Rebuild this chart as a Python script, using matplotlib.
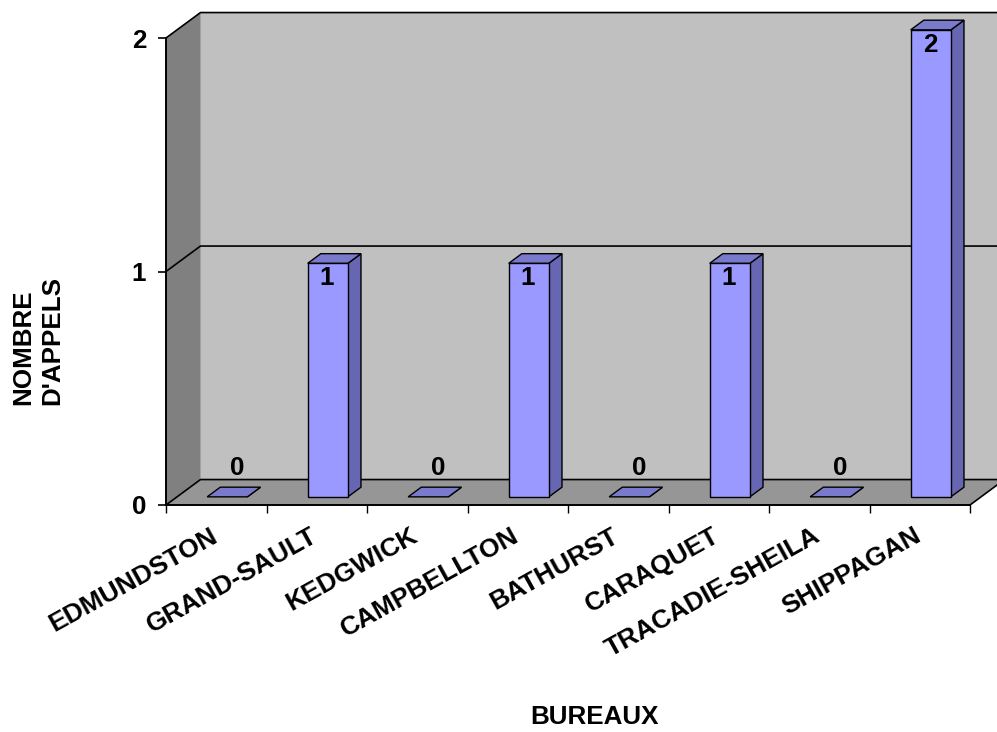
import matplotlib
matplotlib.use("Agg")
import matplotlib.pyplot as plt
from matplotlib.patches import Polygon

# Data
bureaux = ["EDMUNDSTON", "GRAND-SAULT", "KEDGWICK", "CAMPBELLTON",
           "BATHURST", "CARAQUET", "TRACADIE-SHEILA", "SHIPPAGAN"]
appels = [0, 1, 0, 1, 0, 1, 0, 2]
y_ticks = [0, 1, 2]

plt.rcParams["font.family"] = ["Liberation Sans", "DejaVu Sans"]
plt.rcParams["font.weight"] = "bold"
FS = 18.7
FS_CAT = 19.0

# Colours
WALL_BACK = "#c0c0c0"
WALL_SIDE = "#808080"
FLOOR = "#969696"
BAR_FRONT = "#9999ff"
BAR_TOP = "#7a7acc"
BAR_SIDE = "#6666b3"

# Oblique depth offset, in (category, value) units of the front plane
DX, DY = 0.343, 0.109
BAR_W = 0.40
D0, D1 = 0.32, 0.70

fig = plt.figure(figsize=(9.97, 7.32), dpi=100)
ax = fig.add_axes([166 / 997, 227 / 732, 804 / 997, 467 / 732])
n = len(bureaux)
vmax = max(y_ticks)
ax.set_xlim(0, n)
ax.set_ylim(0, vmax)
ax.patch.set_visible(False)

def poly(pts, fc, z=1, lw=0):
    ax.add_patch(Polygon(pts, closed=True, facecolor=fc, edgecolor="black",
                         linewidth=lw, clip_on=False, zorder=z))

# Walls and floor
xr = n + DX + 0.5
poly([(DX, DY), (xr, DY), (xr, vmax + DY), (DX, vmax + DY)], WALL_BACK)
poly([(0, 0), (DX, DY), (DX, vmax + DY), (0, vmax)], WALL_SIDE)
poly([(0, 0), (n, 0), (n + DX, DY), (DX, DY)], FLOOR)

# Gridlines on the walls
for v in y_ticks:
    ax.plot([0, DX, xr], [v, v + DY, v + DY], color="black", lw=1.2,
            clip_on=False, zorder=1.5)
ax.plot([n, n + DX], [0, DY], color="black", lw=1.2, clip_on=False, zorder=1.5)

# Bars
for i, v in enumerate(appels):
    x0 = i + 0.5 - BAR_W / 2
    x1 = i + 0.5 + BAR_W / 2
    fx0, fx1 = x0 + D0 * DX, x1 + D0 * DX
    bx0, bx1 = x0 + D1 * DX, x1 + D1 * DX
    fy, by = D0 * DY, D1 * DY
    poly([(fx1, fy), (bx1, by), (bx1, v + by), (fx1, v + fy)], BAR_SIDE, 3, 1.0)
    poly([(fx0, v + fy), (fx1, v + fy), (bx1, v + by), (bx0, v + by)], BAR_TOP, 3, 1.0)
    if v > 0:
        poly([(fx0, fy), (fx1, fy), (fx1, v + fy), (fx0, v + fy)], BAR_FRONT, 3, 1.0)
        off = (-0.5, -10.8)
    else:
        off = (7.0, 21.0)
    ax.annotate(str(v), xy=((fx0 + fx1) / 2, v + fy), xytext=off,
                textcoords="offset points", ha="center", va="center",
                fontsize=FS, fontweight="bold", zorder=4, annotation_clip=False)

# Axes, ticks and labels
for s in ("top", "right"):
    ax.spines[s].set_visible(False)
for s in ("left", "bottom"):
    ax.spines[s].set_linewidth(1.4)
    ax.spines[s].set_zorder(2)

ax.set_yticks(y_ticks)
ax.set_yticklabels([str(t) for t in y_ticks], fontsize=FS, fontweight="bold")
ax.tick_params(axis="y", direction="out", length=5.8, width=1.2, pad=8.5)

ax.set_xticks(range(n + 1))
ax.set_xticklabels([])
ax.tick_params(axis="x", which="major", direction="out", length=5.8, width=1.0)

# Slanted category names under each slot
for i, name in enumerate(bureaux):
    ax.annotate(name, xy=(i + 0.5, 0), xytext=(-5.0, -13.5),
                textcoords="offset points", ha="right", va="top",
                rotation=29, rotation_mode="anchor",
                fontsize=FS_CAT, fontweight="bold", annotation_clip=False)

fig.text(594 / 997, 1 - 717 / 732, "BUREAUX", ha="center", va="center",
         fontsize=FS, fontweight="bold")
fig.text(38 / 997, 1 - 340 / 732, "NOMBRE\nD'APPELS", rotation=90,
         ha="center", va="center", multialignment="left",
         fontsize=FS, fontweight="bold", linespacing=1.28)

fig.savefig("out.png", dpi=100)
